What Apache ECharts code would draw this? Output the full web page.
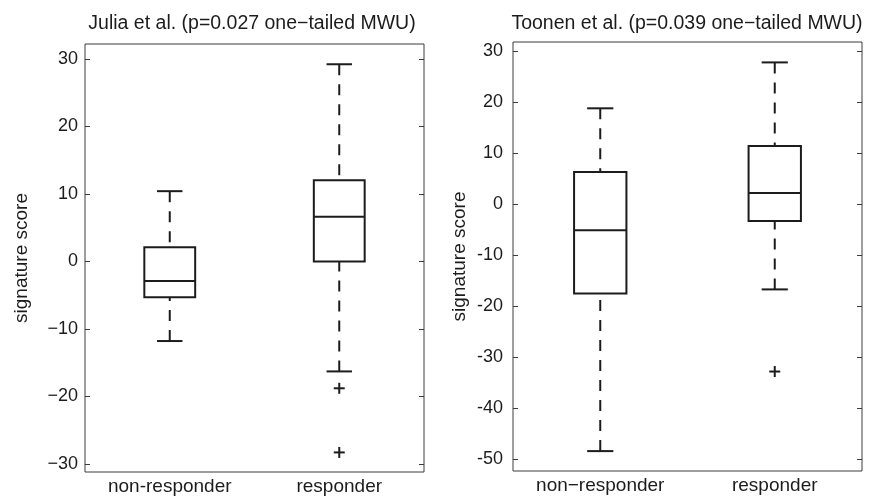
<!DOCTYPE html>
<html>
<head>
<meta charset="utf-8">
<script src="https://cdn.jsdelivr.net/npm/echarts@6/dist/echarts.min.js"></script>
<style>
html,body{margin:0;padding:0;background:#fff}
#chart{width:870px;height:496px}
</style>
</head>
<body>
<div id="chart"></div>
<script>
// box stats: [lower whisker, Q1, median, Q3, upper whisker]
var juliaCategories = ['non-responder', 'responder'];
var juliaBoxes = [[-11.8, -5.3, -2.9, 2.1, 10.4], [-16.3, 0.0, 6.6, 12.0, 29.2]];
var juliaOutliers = [[1, -18.8], [1, -28.3]];
var juliaTicks = [-30, -20, -10, 0, 10, 20, 30];

var toonenCategories = ['non\u2212responder', 'responder'];
var toonenBoxes = [[-48.4, -17.5, -5.1, 6.3, 18.8], [-16.7, -3.3, 2.2, 11.4, 27.8]];
var toonenOutliers = [[1, -32.8]];
var toonenTicks = [-50, -40, -30, -20, -10, 0, 10, 20, 30];

var ink = '#1c1c1c';
var frame = '#3c3c3c';
var font = '"Liberation Sans", Arial, Helvetica, sans-serif';

function boxData(boxes){
    return boxes.map(function(b, i){ return [i].concat(b); });
}

// matlab style box: dashed whiskers, short caps, white box with median
function renderBox(params, api){
    var x = api.value(0);
    var band = api.size([1, 0])[0];
    var bw = band * 0.3;
    var cw = band * 0.15;
    var cx = api.coord([x, 0])[0];
    var yLow = api.coord([x, api.value(1)])[1];
    var yQ1 = api.coord([x, api.value(2)])[1];
    var yMed = api.coord([x, api.value(3)])[1];
    var yQ3 = api.coord([x, api.value(4)])[1];
    var yHigh = api.coord([x, api.value(5)])[1];
    var solid = {stroke: ink, lineWidth: 2, fill: null};
    var dashed = {stroke: ink, lineWidth: 2, lineDash: [11, 9], fill: null};
    return {
        type: 'group',
        children: [
            {type: 'line', shape: {x1: cx, y1: yHigh, x2: cx, y2: yQ3}, style: dashed},
            {type: 'line', shape: {x1: cx, y1: yLow, x2: cx, y2: yQ1}, style: dashed},
            {type: 'line', shape: {x1: cx - cw / 2, y1: yHigh, x2: cx + cw / 2, y2: yHigh}, style: solid},
            {type: 'line', shape: {x1: cx - cw / 2, y1: yLow, x2: cx + cw / 2, y2: yLow}, style: solid},
            {type: 'rect', shape: {x: cx - bw / 2, y: yQ3, width: bw, height: yQ1 - yQ3},
                style: {stroke: ink, lineWidth: 2, fill: '#fff'}},
            {type: 'line', shape: {x1: cx - bw / 2, y1: yMed, x2: cx + bw / 2, y2: yMed}, style: solid}
        ]
    };
}

function renderPlus(params, api){
    var p = api.coord([api.value(0), api.value(1)]);
    var h = 5.5;
    var st = {stroke: ink, lineWidth: 2};
    return {
        type: 'group',
        children: [
            {type: 'line', shape: {x1: p[0] - h, y1: p[1], x2: p[0] + h, y2: p[1]}, style: st},
            {type: 'line', shape: {x1: p[0], y1: p[1] - h, x2: p[0], y2: p[1] + h}, style: st}
        ]
    };
}

function valueAxis(grid, min, max, ticks, side, minusSign, nameGap, labelMargin){
    var left = side === 'left';
    return {
        type: 'value',
        gridIndex: grid,
        position: side,
        min: min,
        max: max,
        name: left ? 'signature score' : '',
        nameLocation: 'middle',
        nameGap: nameGap,
        nameTextStyle: {color: ink, fontSize: 19, fontFamily: font},
        axisLine: {show: false},
        splitLine: {show: false},
        axisTick: {show: true, inside: true, length: 5, customValues: ticks,
            lineStyle: {color: frame, width: 1}},
        axisLabel: {show: left, customValues: ticks, margin: labelMargin,
            color: ink, fontSize: 18, fontFamily: font,
            formatter: function(v){
                var s = String(v);
                return minusSign ? s.replace('-', '\u2212') : s;
            }}
    };
}

function categoryAxis(grid, cats){
    return {
        type: 'category',
        gridIndex: grid,
        data: cats,
        boundaryGap: true,
        axisLine: {show: false},
        axisTick: {show: false},
        splitLine: {show: false},
        axisLabel: {margin: 5, color: ink, fontSize: 19, fontFamily: font}
    };
}

var myChart = echarts.init(document.getElementById('chart'));
var option = {
    backgroundColor: '#fff',
    animation: false,
    graphic: [
        {type: 'text', x: 252, y: 24, style: {text: 'Julia et al. (p=0.027 one\u2212tailed MWU)',
            fill: ink, font: '19.5px ' + font, textAlign: 'center', textVerticalAlign: 'middle'}},
        {type: 'text', x: 687, y: 24, style: {text: 'Toonen et al. (p=0.039 one\u2212tailed MWU)',
            fill: ink, font: '19.5px ' + font, textAlign: 'center', textVerticalAlign: 'middle'}}
    ],
    grid: [
        {left: 85, top: 44, width: 339, height: 428, show: true, borderColor: frame, borderWidth: 1, backgroundColor: 'transparent'},
        {left: 513, top: 42, width: 349, height: 429, show: true, borderColor: frame, borderWidth: 1, backgroundColor: 'transparent'}
    ],
    xAxis: [
        categoryAxis(0, juliaCategories),
        categoryAxis(1, toonenCategories)
    ],
    yAxis: [
        valueAxis(0, -31.2, 32.2, juliaTicks, 'left', true, 54, 7),
        valueAxis(0, -31.2, 32.2, juliaTicks, 'right', true, 0, 0),
        valueAxis(1, -52.3, 31.8, toonenTicks, 'left', false, 44, 10),
        valueAxis(1, -52.3, 31.8, toonenTicks, 'right', false, 0, 0)
    ],
    series: [
        {type: 'custom', xAxisIndex: 0, yAxisIndex: 0, renderItem: renderBox,
            encode: {x: 0, y: [1, 2, 3, 4, 5]}, data: boxData(juliaBoxes)},
        {type: 'custom', xAxisIndex: 0, yAxisIndex: 0, renderItem: renderPlus,
            encode: {x: 0, y: 1}, data: juliaOutliers},
        {type: 'custom', xAxisIndex: 1, yAxisIndex: 2, renderItem: renderBox,
            encode: {x: 0, y: [1, 2, 3, 4, 5]}, data: boxData(toonenBoxes)},
        {type: 'custom', xAxisIndex: 1, yAxisIndex: 2, renderItem: renderPlus,
            encode: {x: 0, y: 1}, data: toonenOutliers}
    ]
};
myChart.setOption(option);
</script>
</body>
</html>
